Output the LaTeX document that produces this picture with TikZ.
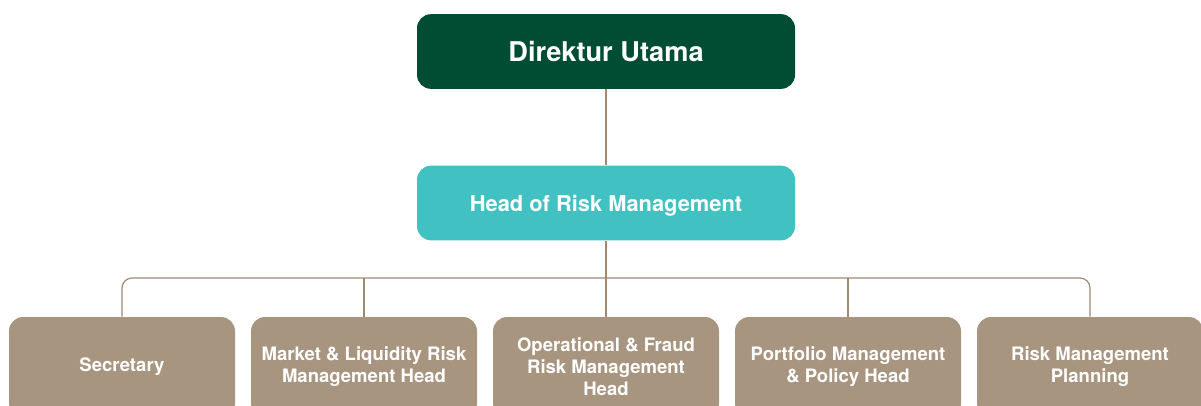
\documentclass[tikz,border=0pt]{standalone}
\usepackage{fontspec}
\setmainfont{TeX Gyre Heros}
\usepackage{tikz}
\usetikzlibrary{positioning,calc}
\definecolor{director}{HTML}{004D33}
\definecolor{riskhead}{HTML}{42C1C2}
\definecolor{unit}{HTML}{A8957F}
\definecolor{linktan}{HTML}{A08A72}
\tikzset{
  conn/.style={draw=linktan,line width=0.9pt},
  topbox/.style={rectangle,rounded corners=10.5pt,minimum width=283.5pt,
    minimum height=56pt,text=white,align=center,text depth=0pt,
    font=\fontsize{20.4}{24}\selectfont\bfseries},
  midbox/.style={topbox,font=\fontsize{16.4}{19}\selectfont\bfseries},
  unitbox/.style={rectangle,rounded corners=10.5pt,fill=unit,minimum width=169.5pt,
    minimum height=75pt,text=white,align=center,
    font=\fontsize{13.9}{16.5}\selectfont\bfseries},
}

\begin{document}
\begin{tikzpicture}[x=0.75pt,y=-0.75pt]
\useasboundingbox (0,0) rectangle (1201,405);

% top of the chart
\node[topbox,fill=director] (dir) at (606,51.5) {Direktur Utama};
\node[midbox,fill=riskhead] (hrm) at (606,203) {Head of Risk Management};

% units under the head
\node[unitbox] (sec) at (122,367) {Secretary};
\node[unitbox] (mlr) at (364,367) {Market \& Liquidity Risk\\Management Head};
\node[unitbox] (ofr) at (606,367) {Operational \& Fraud\\Risk Management\\Head};
\node[unitbox] (pmp) at (848,367) {Portfolio Management\\\& Policy Head};
\node[unitbox] (rmp) at (1090,367) {Risk Management\\Planning};

% connectors
\coordinate (bus) at (606,278);
\draw[conn] (dir.south) -- (hrm.north);
\draw[conn] (hrm.south) -- (hrm.south |- bus);
\draw[conn,rounded corners=7.5pt] (sec.north) -- (sec.north |- bus) -- (rmp.north |- bus) -- (rmp.north);
\foreach \u in {mlr,ofr,pmp}
  \draw[conn] (\u.north) -- (\u.north |- bus);
\end{tikzpicture}
\end{document}
